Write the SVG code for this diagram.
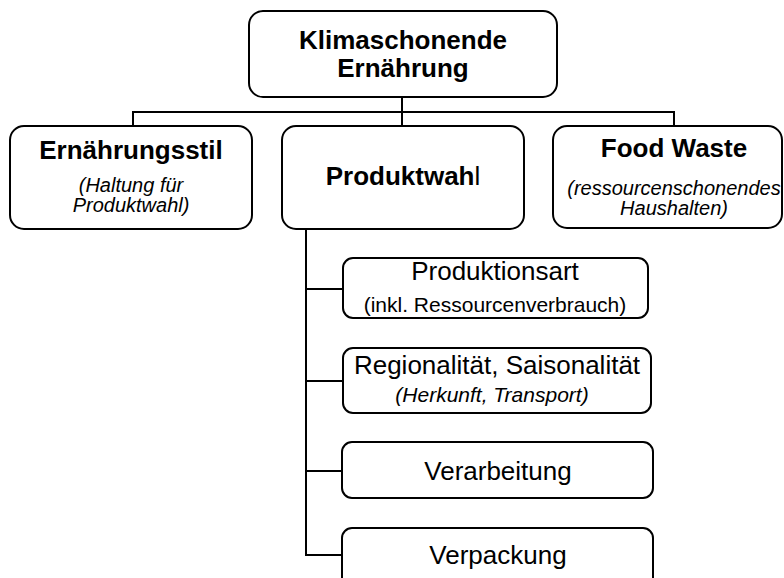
<svg xmlns="http://www.w3.org/2000/svg" width="784" height="578" viewBox="0 0 784 578">
<style>
.box{fill:#fff;stroke:#000;stroke-width:2}
.con{fill:none;stroke:#000;stroke-width:2}
text{font-family:"Liberation Sans",Arial,sans-serif;fill:#000;text-anchor:middle}
.b{font-weight:bold;font-size:26px}
.r{font-size:26px}
.i{font-style:italic;font-size:20px}
.s{font-size:21px}
.si{font-style:italic;font-size:21px}
</style>
<rect width="784" height="578" fill="#fff"/>
<g id="connectors">
<path class="con" d="M402 97V126M133 126V112H674V126"/>
<path class="con" d="M306 229V555H342M306 289H343M306 381H343M306 471H342"/>
</g>
<g id="root">
<rect class="box" x="249" y="11" width="308" height="86" rx="14"/>
<text class="b" x="403" y="49">Klimaschonende</text>
<text class="b" x="403" y="77">Ernährung</text>
</g>
<g id="ernaehrungsstil">
<rect class="box" x="10" y="126" width="242" height="103" rx="14"/>
<text class="b" x="131" y="159">Ernährungsstil</text>
<text class="i" x="131" y="192">(Haltung für</text>
<text class="i" x="131" y="212">Produktwahl)</text>
</g>
<g id="produktwahl">
<rect class="box" x="282" y="126" width="242" height="103" rx="14"/>
<text x="403" y="185" class="r"><tspan font-weight="bold">Produktwah</tspan>l</text>
</g>
<g id="foodwaste">
<rect class="box" x="553" y="126" width="229" height="102" rx="14"/>
<text class="b" x="674" y="157">Food Waste</text>
<text class="i" x="674" y="195">(ressourcenschonendes</text>
<text class="i" x="674" y="215">Haushalten)</text>
</g>
<g id="produktionsart">
<rect class="box" x="343" y="258" width="305" height="60" rx="10"/>
<text class="r" x="495" y="280">Produktionsart</text>
<text class="s" x="495" y="312">(inkl. Ressourcenverbrauch)</text>
</g>
<g id="regionalitaet">
<rect class="box" x="343" y="348" width="308" height="65" rx="10"/>
<text class="r" x="497" y="374">Regionalität, Saisonalität</text>
<text class="si" x="492" y="402">(Herkunft, Transport)</text>
</g>
<g id="verarbeitung">
<rect class="box" x="342" y="442" width="311" height="56" rx="10"/>
<text class="r" x="498" y="480">Verarbeitung</text>
</g>
<g id="verpackung">
<rect class="box" x="342" y="528" width="311" height="60" rx="10"/>
<text class="r" x="498" y="564">Verpackung</text>
</g>
</svg>
